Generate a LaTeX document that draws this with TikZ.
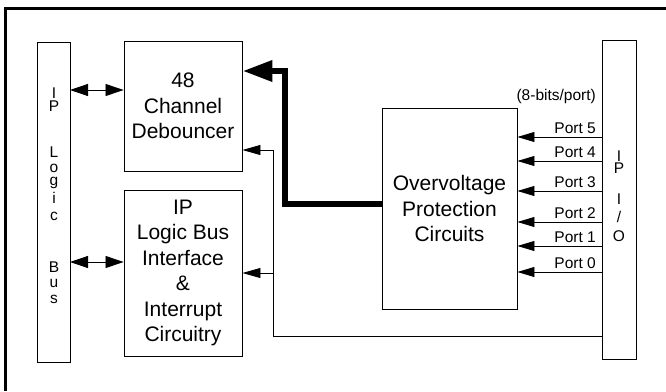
\documentclass[tikz,border=0pt]{standalone}
\usepackage{fontspec}
\setmainfont{Liberation Sans}
\usetikzlibrary{arrows.meta}

\begin{document}
\begin{tikzpicture}[x=1pt,y=-1pt,
  point/.style={coordinate},
  block/.style={draw, line width=0.9pt, rectangle, inner sep=0pt, align=center, font=\fontsize{21}{25.5}\selectfont},
  bar/.style={draw, line width=0.9pt, rectangle, inner sep=0pt},
  letter/.style={anchor=base, inner sep=0pt, text depth=0pt, font=\fontsize{15.5}{15.5}\selectfont},
  portlabel/.style={anchor=base east, inner sep=0pt, font=\fontsize{15.5}{18}\selectfont},
  wire/.style={line width=0.8pt, -{Triangle[length=18pt,width=10pt]}},
  portwire/.style={line width=0.8pt, -{Triangle[length=17pt,width=10pt]}},
  dblwire/.style={line width=0.8pt, {Triangle[length=18pt,width=12pt]}-{Triangle[length=18pt,width=12pt]}},
  bigwire/.style={line width=6.5pt, -{Triangle[length=30pt,width=20pt]}}]
\useasboundingbox (0,0) rectangle (666,391);
% frame
\node[point] (f0) at (5.5,391) {};
\node[point] (f1) at (5.5,8.5) {};
\node[point] (f2) at (666,8.5) {};
\draw[line width=2.5pt] (f0) -- (f1) -- (f2);
% blocks
\node[bar] (bus) at (53.5,202) [minimum width=33pt, minimum height=320pt] {};
\node[bar] (io) at (619,199.5) [minimum width=34pt, minimum height=319pt] {};
\node[block] (deb) at (183,106) [minimum width=118pt, minimum height=130pt] {48\\Channel\\Debouncer};
\node[block] (ifc) at (183,273) [minimum width=118pt, minimum height=166pt] {IP\\Logic Bus\\Interface\\\&\\Interrupt\\Circuitry};
\node[block] (ovp) at (449.5,208.5) [minimum width=135pt, minimum height=201pt] {Overvoltage\\Protection\\Circuits};
% vertical labels
\foreach \c/\y [count=\k] in {I/98,P/111,L/157,o/172,g/185,i/203,c/220,B/272,u/287,s/303}
  \node[letter] (lb\k) at (54,\y) {\c};
\foreach \c/\y [count=\k] in {I/161,P/173,I/204,{/}/222,O/241}
  \node[letter] (li\k) at (619,\y) {\c};
% bus connections
\node[point] (a0) at (70,90) {};
\node[point] (a1) at (70,262) {};
\draw[dblwire] (a0) -- (deb.west |- a0);
\draw[dblwire] (a1) -- (ifc.west |- a1);
% wide path
\node[point] (b0) at (285,204) {};
\node[point] (b1) at (285,71) {};
\draw[bigwire] (ovp.west |- b0) -- (b0) -- (b1) -- (deb.east |- b1);
% return path
\node[point] (c0) at (273,336) {};
\node[point] (c1) at (273,150) {};
\node[point] (c2) at (273,273) {};
\draw[line width=0.8pt] (io.west |- c0) -- (c0) -- (c1);
\draw[wire] (c1) -- (deb.east |- c1);
\draw[wire] (c2) -- (ifc.east |- c2);
% ports
\node[portlabel] (bits) at (596,100) {(8-bits/port)};
\foreach \n/\y in {5/137,4/161,3/191,2/222,1/246,0/272} {
  \node[point] (p\n) at (602,\y) {};
  \draw[portwire] (p\n) -- (ovp.east |- p\n);
  \node[portlabel] (pl\n) at (596,\y-4) {Port \n};
}
\end{tikzpicture}
\end{document}
